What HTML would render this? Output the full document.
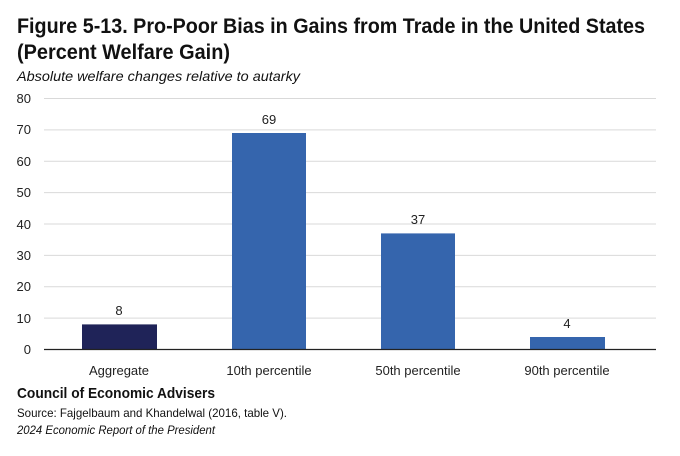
<!DOCTYPE html>
<html><head><meta charset="utf-8"><style>body{margin:0;background:#fff}svg{display:block}</style></head>
<body>
<svg width="680" height="456" xmlns="http://www.w3.org/2000/svg" font-family="Liberation Sans, sans-serif">
<rect width="680" height="456" fill="#fff"/>
<text x="17" y="33" font-size="21" font-weight="bold" fill="#111" textLength="628" lengthAdjust="spacingAndGlyphs">Figure 5-13. Pro-Poor Bias in Gains from Trade in the United States</text>
<text x="17" y="59" font-size="21" font-weight="bold" fill="#111" textLength="213" lengthAdjust="spacingAndGlyphs">(Percent Welfare Gain)</text>
<text x="17" y="81" font-size="14" font-style="italic" fill="#111" textLength="283" lengthAdjust="spacingAndGlyphs">Absolute welfare changes relative to autarky</text>
<g stroke="#d9d9d9" stroke-width="1">
<line x1="44" x2="656" y1="98.5" y2="98.5"/><line x1="44" x2="656" y1="129.9" y2="129.9"/>
<line x1="44" x2="656" y1="161.3" y2="161.3"/><line x1="44" x2="656" y1="192.6" y2="192.6"/>
<line x1="44" x2="656" y1="224" y2="224"/><line x1="44" x2="656" y1="255.4" y2="255.4"/>
<line x1="44" x2="656" y1="286.8" y2="286.8"/><line x1="44" x2="656" y1="318.1" y2="318.1"/>
</g>
<g font-size="13" fill="#222" text-anchor="end">
<text x="31" y="103">80</text><text x="31" y="134">70</text><text x="31" y="166">60</text>
<text x="31" y="197">50</text><text x="31" y="229">40</text><text x="31" y="260">30</text>
<text x="31" y="291">20</text><text x="31" y="323">10</text><text x="31" y="354">0</text>
</g>
<rect x="82" y="324.4" width="75" height="25.1" fill="#1f2358"/>
<rect x="232" y="133" width="74" height="216.5" fill="#3565ad"/>
<rect x="381" y="233.4" width="74" height="116.1" fill="#3565ad"/>
<rect x="530" y="337" width="75" height="12.5" fill="#3565ad"/>
<line x1="44" x2="656" y1="349.5" y2="349.5" stroke="#222" stroke-width="1.2"/>
<g font-size="13" fill="#222" text-anchor="middle">
<text x="119" y="315">8</text><text x="269" y="124">69</text><text x="418" y="224">37</text><text x="567" y="328">4</text>
<text x="119" y="375">Aggregate</text><text x="269" y="375">10th percentile</text>
<text x="418" y="375">50th percentile</text><text x="567" y="375">90th percentile</text>
</g>
<text x="17" y="398" font-size="15" font-weight="bold" fill="#111" textLength="198" lengthAdjust="spacingAndGlyphs">Council of Economic Advisers</text>
<text x="17" y="417" font-size="12" fill="#111" textLength="270" lengthAdjust="spacingAndGlyphs">Source: Fajgelbaum and Khandelwal (2016, table V).</text>
<text x="17" y="434" font-size="12" font-style="italic" fill="#111" textLength="198" lengthAdjust="spacingAndGlyphs">2024 Economic Report of the President</text>
</svg>
</body></html>
